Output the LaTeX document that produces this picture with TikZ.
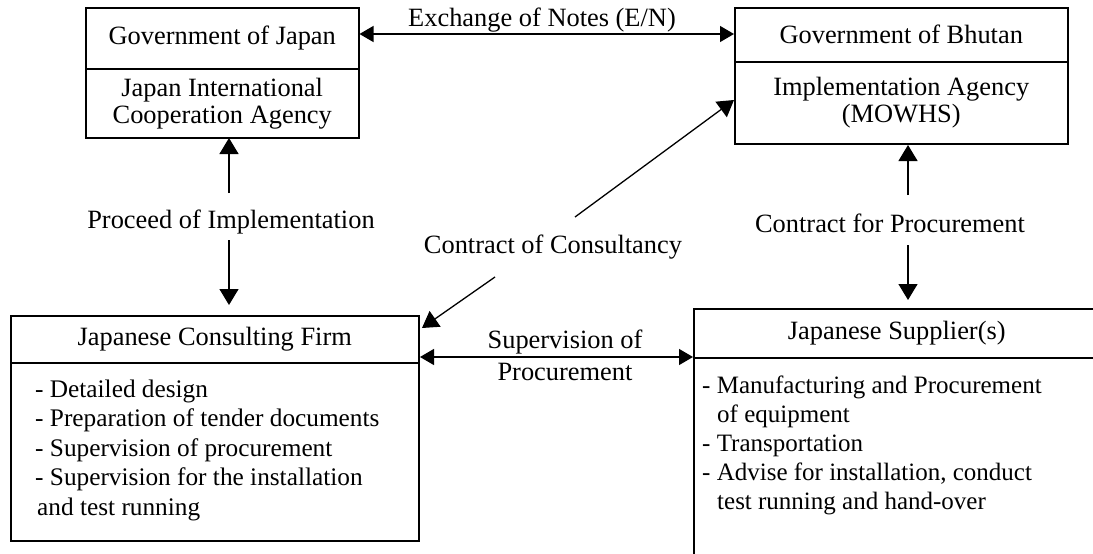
\documentclass[tikz,border=0pt]{standalone}
\usepackage{fontspec}
\setmainfont{Liberation Serif}
\usetikzlibrary{arrows.meta,calc}
\tikzset{
  box/.style={draw, line width=1.5pt, rectangle, inner sep=0pt, align=center,
    font=\fontsize{26.4}{27}\selectfont},
  lbl/.style={inner sep=0pt, font=\fontsize{26.4}{27}\selectfont},
  conn/.style={line width=1.3pt, -{Triangle[length=16pt,width=19pt]}},
  hconn/.style={line width=1.3pt, {Triangle[length=14pt,width=16pt]}-{Triangle[length=14pt,width=16pt]}},
  listtext/.style={inner sep=0pt, anchor=base west}
}
\begin{document}
\begin{tikzpicture}[x=1pt,y=-1pt]
\useasboundingbox (0,0) rectangle (1093,554);
\clip (0,0) rectangle (1093,554);
% Japan side
\node[box, anchor=north west, minimum width=273pt, minimum height=61pt] (gj) at (85,7) {Government of Japan};
\node[box, anchor=north west, minimum width=273pt, minimum height=69pt] (jica) at (85,68) {Japan International\\Cooperation Agency};
% Bhutan side
\node[box, anchor=north west, minimum width=333pt, minimum height=54pt] (gb) at (734,7) {Government of Bhutan};
\node[box, anchor=north west, minimum width=333pt, minimum height=82pt, font=\fontsize{26.4}{27}\selectfont] (ia) at (734,61) {Implementation Agency\\(MOWHS)};
% Consulting firm
\node[box, anchor=north west, minimum width=408pt, minimum height=47pt] (cf) at (10,315) {Japanese Consulting Firm};
\node[box, anchor=north west, minimum width=408pt, minimum height=178pt] (cfl) at (10,362) {};
\node[listtext] (cflist) at (35,397) {\parbox[t]{380pt}{\fontsize{25.3}{29.5}\selectfont\raggedright\noindent
- Detailed design\\
- Preparation of tender documents\\
- Supervision of procurement\\
- Supervision for the installation\\
\hspace*{2pt}and test running}};
% Supplier
\node[box, anchor=north west, minimum width=406pt, minimum height=49pt] (js) at (693,308) {Japanese Supplier(s)};
\node[box, anchor=north west, minimum width=406pt, minimum height=220pt] (jsl) at (693,357) {};
\node[listtext] (jslist) at (702,393) {\parbox[t]{390pt}{\fontsize{25}{29}\selectfont\raggedright\noindent
- Manufacturing and Procurement\\
\hspace*{15pt}of equipment\\
- Transportation\\
- Advise for installation, conduct\\
\hspace*{15pt}test running and hand-over}};
% Exchange of notes
\coordinate (ea) at (gj.east |- 0,34);
\coordinate (eb) at (gb.west |- 0,34);
\draw[hconn] (ea) -- (eb);
\node[lbl, anchor=base] (exl) at (542,27) {Exchange of Notes (E/N)};
% Proceed of implementation
\node[lbl, anchor=base] (pil) at (231,228) {Proceed of Implementation};
\coordinate (pa) at (229,193);
\coordinate (pb) at (229,240);
\draw[conn] (pa) -- (229,138);
\draw[conn] (pb) -- (229,305);
% Contract for procurement
\node[lbl, anchor=base] (cpl) at (890,232) {Contract for Procurement};
\coordinate (qa) at (908,195);
\coordinate (qb) at (908,245);
\draw[conn] (qa) -- (908,145);
\draw[conn] (qb) -- (908,300);
% Contract of consultancy
\node[lbl, anchor=base] (ccl) at (553,253) {Contract of Consultancy};
\coordinate (ca) at (575,217);
\coordinate (cb) at (495,277);
\draw[conn] (ca) -- (734,100);
\draw[conn] (cb) -- (422,328);
% Supervision of procurement
\coordinate (sa) at (420,357);
\coordinate (sb) at (js.west |- 0,357);
\draw[hconn] (sa) -- (sb);
\node[lbl, anchor=base] (spl1) at (565,348) {Supervision of};
\node[lbl, anchor=base] (spl2) at (565,380) {Procurement};
\end{tikzpicture}
\end{document}
